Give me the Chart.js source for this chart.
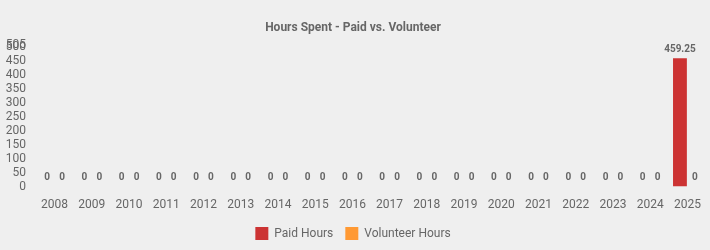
<!DOCTYPE html>
<html>
<head>
<meta charset="utf-8">
<script src="https://cdn.jsdelivr.net/npm/chart.js@4/dist/chart.umd.min.js"></script>
<style>
html,body{margin:0;padding:0;background:#efefef;}
#wrap{width:710px;height:250px;}
</style>
</head>
<body>
<div id="wrap"><canvas id="c" width="710" height="250"></canvas></div>
<script>
const categories = ['2008','2009','2010','2011','2012','2013','2014','2015','2016','2017','2018','2019','2020','2021','2022','2023','2024','2025'];
const paidHours = [0,0,0,0,0,0,0,0,0,0,0,0,0,0,0,0,0,459.25];
const volunteerHours = [0,0,0,0,0,0,0,0,0,0,0,0,0,0,0,0,0,0];
const yTicks = [0,50,100,150,200,250,300,350,400,450,500,505];

const labelPlugin = {
  id: 'valueLabels',
  afterDatasetsDraw(chart) {
    const ctx = chart.ctx;
    ctx.save();
    ctx.font = 'bold 10px Roboto';
    ctx.fillStyle = '#666666';
    ctx.textAlign = 'center';
    ctx.textBaseline = 'bottom';
    chart.data.datasets.forEach((ds, di) => {
      const meta = chart.getDatasetMeta(di);
      meta.data.forEach((el, i) => {
        const v = ds.data[i];
        ctx.fillText(String(v), el.x, el.y - 4);
      });
    });
    ctx.restore();
  }
};

new Chart(document.getElementById('c'), {
  type: 'bar',
  data: {
    labels: categories,
    datasets: [
      { label: 'Paid Hours', data: paidHours, backgroundColor: '#cc3333', barPercentage: 0.93 },
      { label: 'Volunteer Hours', data: volunteerHours, backgroundColor: '#ff9933', barPercentage: 0.93 }
    ]
  },
  plugins: [labelPlugin],
  options: {
    responsive: false,
    animation: false,
    devicePixelRatio: 1,
    layout: { padding: { left: 0, right: 4, top: 10, bottom: 0 } },
    plugins: {
      title: {
        display: true,
        text: 'Hours Spent - Paid vs. Volunteer',
        color: '#666666',
        font: { family: 'Roboto', size: 12, weight: 'bold' },
        padding: { top: 11, bottom: 10 }
      },
      legend: {
        position: 'bottom',
        labels: {
          color: '#666666',
          font: { family: 'Roboto', size: 12 },
          boxWidth: 13,
          boxHeight: 13,
          padding: 12
        }
      },
      tooltip: { enabled: false }
    },
    scales: {
      x: {
        grid: { display: false },
        border: { display: false },
        ticks: { color: '#666666', font: { family: 'Roboto', size: 12 }, maxRotation: 0, autoSkip: false }
      },
      y: {
        min: 0,
        max: 505,
        grid: { display: false, drawTicks: false },
        border: { display: false },
        ticks: { color: '#666666', font: { family: 'Roboto', size: 12 }, padding: 10, autoSkip: false },
        afterBuildTicks(scale) {
          scale.ticks = yTicks.map(v => ({ value: v }));
        },
        afterFit(scale) {
          scale.width = 36;
        }
      }
    }
  }
});
</script>
</body>
</html>
